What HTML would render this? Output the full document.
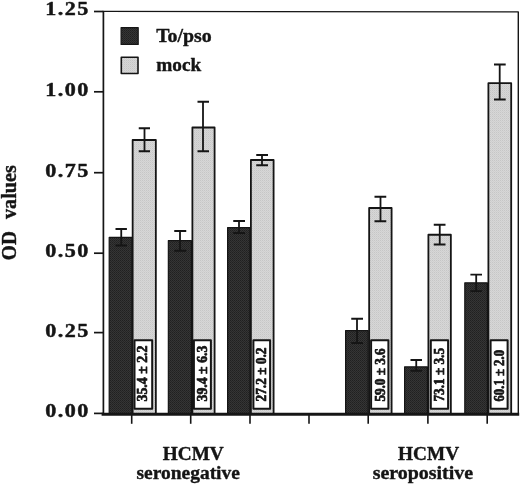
<!DOCTYPE html><html><head><meta charset="utf-8"><title>OD values chart</title><style>html,body{margin:0;padding:0;background:#fff}svg{display:block}</style></head><body><svg width="520" height="485" viewBox="0 0 520 485">
<defs><pattern id="pd" width="2" height="2" patternUnits="userSpaceOnUse"><rect width="2" height="2" fill="#353535"/><rect width="1" height="1" fill="#202020"/><rect x="1" y="1" width="1" height="1" fill="#262626"/></pattern><pattern id="pl" width="2" height="2" patternUnits="userSpaceOnUse"><rect width="2" height="2" fill="#d7d7d7"/><rect width="1" height="1" fill="#c6c6c6"/><rect x="1" y="1" width="1" height="1" fill="#cfcfcf"/></pattern></defs>
<rect width="520" height="485" fill="#fff"/>
<g font-family="'Liberation Serif', serif" font-weight="bold" fill="#151515" stroke="#151515" stroke-width="0.4" stroke-linejoin="round">
<rect x="109.20" y="237.40" width="22.60" height="176.60" fill="url(#pd)" stroke="#151515" stroke-width="1.2"/>
<rect x="168.35" y="240.60" width="23.05" height="173.40" fill="url(#pd)" stroke="#151515" stroke-width="1.2"/>
<rect x="227.60" y="227.60" width="22.40" height="186.40" fill="url(#pd)" stroke="#151515" stroke-width="1.2"/>
<rect x="345.60" y="330.60" width="22.60" height="83.40" fill="url(#pd)" stroke="#151515" stroke-width="1.2"/>
<rect x="404.60" y="366.85" width="22.80" height="47.15" fill="url(#pd)" stroke="#151515" stroke-width="1.2"/>
<rect x="464.80" y="282.80" width="22.60" height="131.20" fill="url(#pd)" stroke="#151515" stroke-width="1.2"/>
<rect x="132.65" y="140.00" width="23.20" height="274.00" fill="url(#pl)" stroke="#151515" stroke-width="1.8"/>
<rect x="192.40" y="127.50" width="22.20" height="286.50" fill="url(#pl)" stroke="#151515" stroke-width="1.8"/>
<rect x="250.90" y="160.00" width="22.70" height="254.00" fill="url(#pl)" stroke="#151515" stroke-width="1.8"/>
<rect x="369.15" y="208.00" width="22.45" height="206.00" fill="url(#pl)" stroke="#151515" stroke-width="1.8"/>
<rect x="428.40" y="234.75" width="22.45" height="179.25" fill="url(#pl)" stroke="#151515" stroke-width="1.8"/>
<rect x="488.40" y="83.20" width="22.80" height="330.80" fill="url(#pl)" stroke="#151515" stroke-width="1.8"/>
<path d="M121.25 229.0V245.5M115.5 229.0H126.9M115.5 245.5H126.9" stroke="#151515" stroke-width="1.8" fill="none"/>
<path d="M180.0 231.0V250.75M174.25 231.0H186.25M174.25 250.75H186.25" stroke="#151515" stroke-width="1.8" fill="none"/>
<path d="M239.0 221.0V233.0M233.25 221.0H245.0M233.25 233.0H245.0" stroke="#151515" stroke-width="1.8" fill="none"/>
<path d="M357.0 318.75V343.0M351.25 318.75H363.0M351.25 343.0H363.0" stroke="#151515" stroke-width="1.8" fill="none"/>
<path d="M416.25 360.0V370.75M410.5 360.0H422.0M410.5 370.75H422.0" stroke="#151515" stroke-width="1.8" fill="none"/>
<path d="M476.2 274.6V291.2M470.4 274.6H482.0M470.4 291.2H482.0" stroke="#151515" stroke-width="1.8" fill="none"/>
<path d="M144.5 128.25V151.25M138.75 128.25H150.0M138.75 151.25H150.0" stroke="#151515" stroke-width="1.8" fill="none"/>
<path d="M203.0 101.75V151.25M197.5 101.75H209.0M197.5 151.25H209.0" stroke="#151515" stroke-width="1.8" fill="none"/>
<path d="M262.0 155.0V165.25M256.25 155.0H268.0M256.25 165.25H268.0" stroke="#151515" stroke-width="1.8" fill="none"/>
<path d="M380.5 196.75V221.25M374.5 196.75H386.25M374.5 221.25H386.25" stroke="#151515" stroke-width="1.8" fill="none"/>
<path d="M439.75 224.75V244.5M433.75 224.75H445.5M433.75 244.5H445.5" stroke="#151515" stroke-width="1.8" fill="none"/>
<path d="M499.7 64.5V99.5M494.0 64.5H505.7M494.0 99.5H505.7" stroke="#151515" stroke-width="1.8" fill="none"/>
<rect x="134.50" y="340.20" width="17.70" height="68.60" fill="#fff" stroke="#151515" stroke-width="2.0"/>
<text transform="translate(147.20 401.5) rotate(-90)" font-size="13.7" textLength="56.0" lengthAdjust="spacingAndGlyphs" stroke-width="0.7">35.4 ± 2.2</text>
<rect x="193.90" y="340.20" width="17.00" height="68.60" fill="#fff" stroke="#151515" stroke-width="2.0"/>
<text transform="translate(206.80 401.5) rotate(-90)" font-size="13.7" textLength="55.9" lengthAdjust="spacingAndGlyphs" stroke-width="0.7">39.4 ± 6.3</text>
<rect x="253.40" y="340.20" width="16.70" height="68.60" fill="#fff" stroke="#151515" stroke-width="2.0"/>
<text transform="translate(265.90 401.5) rotate(-90)" font-size="13.7" textLength="54.0" lengthAdjust="spacingAndGlyphs" stroke-width="0.7">27.2 ± 0.2</text>
<rect x="371.10" y="340.20" width="17.30" height="68.60" fill="#fff" stroke="#151515" stroke-width="2.0"/>
<text transform="translate(385.00 401.5) rotate(-90)" font-size="13.7" textLength="53.0" lengthAdjust="spacingAndGlyphs" stroke-width="0.7">59.0 ± 3.6</text>
<rect x="430.80" y="340.20" width="17.30" height="68.60" fill="#fff" stroke="#151515" stroke-width="2.0"/>
<text transform="translate(443.80 401.5) rotate(-90)" font-size="13.7" textLength="53.5" lengthAdjust="spacingAndGlyphs" stroke-width="0.7">73.1 ± 3.5</text>
<rect x="490.60" y="340.20" width="17.00" height="68.60" fill="#fff" stroke="#151515" stroke-width="2.0"/>
<text transform="translate(503.70 401.5) rotate(-90)" font-size="13.7" textLength="51.5" lengthAdjust="spacingAndGlyphs" stroke-width="0.7">60.1 ± 2.0</text>
<path d="M103.4 10.9V414.0" stroke="#151515" stroke-width="1.7" fill="none"/>
<path d="M102.6 11.4L518.3 11.9V414.0" stroke="#151515" stroke-width="1.4" fill="none"/>
<path d="M101.6 414.3H519.2" stroke="#151515" stroke-width="3" fill="none"/>
<path d="M94 11.50H103.4" stroke="#151515" stroke-width="1.7"/>
<text transform="translate(45.2 15.40) scale(1.15 1)" font-size="19.2" letter-spacing="1.3" stroke-width="0.45">1.25</text>
<path d="M94 91.80H103.4" stroke="#151515" stroke-width="1.7"/>
<text transform="translate(45.2 95.70) scale(1.15 1)" font-size="19.2" letter-spacing="1.3" stroke-width="0.45">1.00</text>
<path d="M94 172.70H103.4" stroke="#151515" stroke-width="1.7"/>
<text transform="translate(45.2 176.60) scale(1.15 1)" font-size="19.2" letter-spacing="1.3" stroke-width="0.45">0.75</text>
<path d="M94 253.20H103.4" stroke="#151515" stroke-width="1.7"/>
<text transform="translate(45.2 257.10) scale(1.15 1)" font-size="19.2" letter-spacing="1.3" stroke-width="0.45">0.50</text>
<path d="M94 332.60H103.4" stroke="#151515" stroke-width="1.7"/>
<text transform="translate(45.2 336.50) scale(1.15 1)" font-size="19.2" letter-spacing="1.3" stroke-width="0.45">0.25</text>
<path d="M94 413.40H103.4" stroke="#151515" stroke-width="1.7"/>
<text transform="translate(45.2 417.30) scale(1.15 1)" font-size="19.2" letter-spacing="1.3" stroke-width="0.45">0.00</text>
<path d="M131.7 414.0V423.8" stroke="#151515" stroke-width="1.6"/>
<path d="M190.7 414.0V423.8" stroke="#151515" stroke-width="1.6"/>
<path d="M250.0 414.0V423.8" stroke="#151515" stroke-width="1.6"/>
<path d="M309.0 414.0V423.8" stroke="#151515" stroke-width="1.6"/>
<path d="M368.2 414.0V423.8" stroke="#151515" stroke-width="1.6"/>
<path d="M427.9 414.0V423.8" stroke="#151515" stroke-width="1.6"/>
<path d="M487.2 414.0V423.8" stroke="#151515" stroke-width="1.6"/>
<rect x="121.1" y="27.6" width="17.1" height="16.8" fill="url(#pd)" stroke="#151515" stroke-width="1.2"/>
<rect x="121.3" y="57.3" width="16.7" height="16.2" fill="url(#pl)" stroke="#151515" stroke-width="1.6"/>
<text x="156.2" y="41.8" font-size="19.6" textLength="55.6" lengthAdjust="spacingAndGlyphs">To/pso</text>
<text x="156.2" y="71.0" font-size="19.3">mock</text>
<text transform="translate(16.1 260.2) rotate(-90)" font-size="20.5" textLength="29.1" lengthAdjust="spacingAndGlyphs">OD</text>
<text transform="translate(16.1 219) rotate(-90)" font-size="20.5" textLength="53.9" lengthAdjust="spacingAndGlyphs">values</text>
<text x="162.8" y="459.8" font-size="19.6" textLength="61" lengthAdjust="spacingAndGlyphs">HCMV</text>
<text x="136.5" y="478.6" font-size="19.6" textLength="103.4" lengthAdjust="spacingAndGlyphs">seronegative</text>
<text x="398.1" y="459.8" font-size="19.6" textLength="61" lengthAdjust="spacingAndGlyphs">HCMV</text>
<text x="372.7" y="478.6" font-size="19.6" textLength="100.4" lengthAdjust="spacingAndGlyphs">seropositive</text>
</g></svg></body></html>
